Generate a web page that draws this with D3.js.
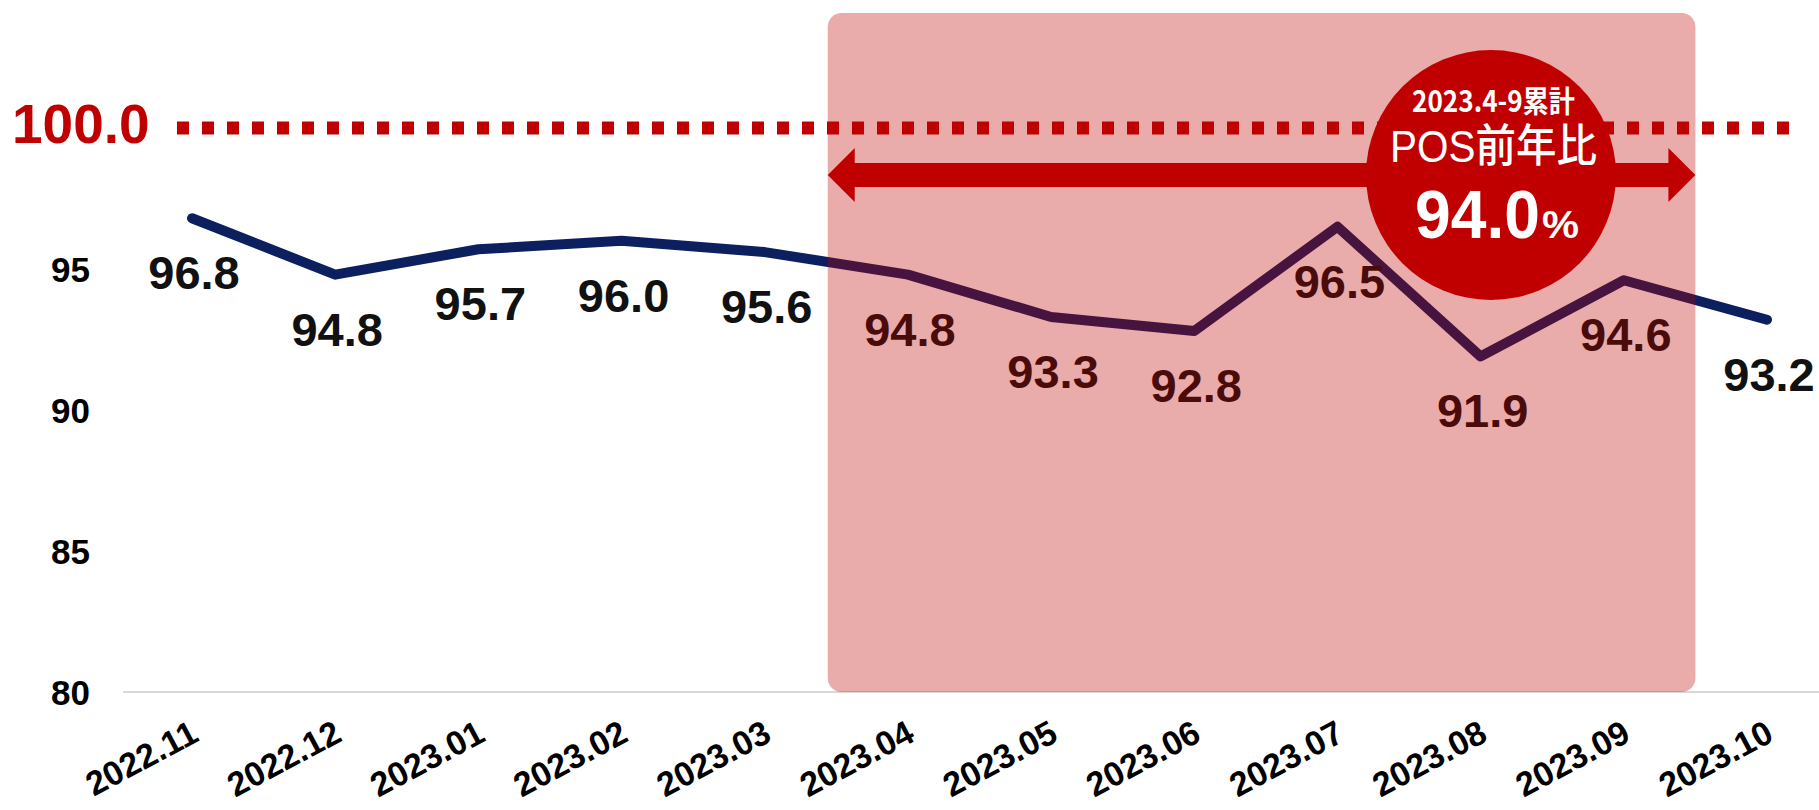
<!DOCTYPE html>
<html>
<head>
<meta charset="utf-8">
<script src="https://cdn.jsdelivr.net/npm/d3@7"></script>
<style>
  html, body { margin: 0; padding: 0; background: #ffffff; }
  svg { display: block; }
</style>
</head>
<body>
<svg id="chart" width="1819" height="810"></svg>
<script>
// ---- data ----
const months = ["2022.11","2022.12","2023.01","2023.02","2023.03","2023.04","2023.05","2023.06","2023.07","2023.08","2023.09","2023.10"];
const values = [96.8, 94.8, 95.7, 96.0, 95.6, 94.8, 93.3, 92.8, 96.5, 91.9, 94.6, 93.2];
const yTicks = [80, 85, 90, 95];
const refValue = 100;
const refLabel = "100.0";
const highlightStart = "2023.04";
const highlightEnd = "2023.09";
const badgeLines = ["2023.4-9累計", "POS前年比"];
const badgeValue = "94.0";
const badgeUnit = "%";

// ---- setup ----
const W = 1819, H = 810;
const svg = d3.select("#chart");
const RED = "#c00000";
const NAVY = "#0c1f5e";

const x = d3.scalePoint().domain(months).range([192, 1767]);
const step = x.step();
const y = d3.scaleLinear().domain([80, 100]).range([692, 128]);

// baseline axis line
svg.append("line")
  .attr("x1", x(months[0]) - step * 0.48).attr("x2", W)
  .attr("y1", y(80)).attr("y2", y(80))
  .attr("stroke", "#d9d9d9").attr("stroke-width", 2);

// y axis labels
const yAxis = d3.axisLeft(y).tickValues(yTicks).tickSize(0).tickPadding(0).tickFormat(d3.format("d"));
const yg = svg.append("g").attr("transform", "translate(90,0)").call(yAxis);
yg.select(".domain").remove();
yg.selectAll("text")
  .attr("font-family", "'Liberation Sans', Arial, sans-serif")
  .attr("font-size", 35).attr("font-weight", "bold").attr("fill", "#000")
  .attr("dy", "0.35em");

// reference dotted line at 100
svg.append("line")
  .attr("x1", 177).attr("x2", 1797)
  .attr("y1", y(refValue)).attr("y2", y(refValue))
  .attr("stroke", RED).attr("stroke-width", 13)
  .attr("stroke-dasharray", "12 13");
svg.append("text")
  .attr("x", 12).attr("y", y(refValue) + 15)
  .attr("font-family", "'Liberation Sans', Arial, sans-serif")
  .attr("font-size", 55).attr("font-weight", "bold").attr("fill", RED)
  .text(refLabel);

// data line
const line = d3.line().x((d, i) => x(months[i])).y(d => y(d));
svg.append("path")
  .datum(values)
  .attr("d", line)
  .attr("fill", "none").attr("stroke", NAVY)
  .attr("stroke-width", 10).attr("stroke-linejoin", "round").attr("stroke-linecap", "round");

// data labels
svg.append("g").selectAll("text")
  .data(values).join("text")
  .attr("x", (d, i) => x(months[i]) + 2)
  .attr("y", d => y(d) + 71)
  .attr("text-anchor", "middle")
  .attr("font-family", "'Liberation Sans', Arial, sans-serif")
  .attr("font-size", 47).attr("font-weight", "bold").attr("fill", "#111")
  .text(d => d.toFixed(1));

// x axis labels
const xAxis = d3.axisBottom(x).tickSize(0).tickPadding(0);
const xg = svg.append("g").attr("transform", `translate(0,${y(80)})`).call(xAxis);
xg.select(".domain").remove();
xg.selectAll("text")
  .attr("font-family", "'Liberation Sans', Arial, sans-serif")
  .attr("font-size", 34).attr("font-weight", "bold").attr("fill", "#000")
  .attr("text-anchor", "end")
  .attr("dy", 0).attr("y", 0)
  .attr("transform", "translate(8,48) rotate(-28)");

// highlight rectangle (semi-transparent, on top of line)
const rx0 = x(highlightStart) - step * 0.56;
const rx1 = x(highlightEnd) + step * 0.5;
svg.append("rect")
  .attr("x", rx0).attr("y", 13)
  .attr("width", rx1 - rx0).attr("height", y(80) - 13)
  .attr("rx", 14).attr("ry", 14)
  .attr("fill", RED).attr("fill-opacity", 0.33);

// double-headed arrow
const ay = 175, half = 12, headLen = 27, headHalf = 27;
const arrowPts = [
  [rx0, ay], [rx0 + headLen, ay - headHalf], [rx0 + headLen, ay - half],
  [rx1 - headLen, ay - half], [rx1 - headLen, ay - headHalf], [rx1, ay],
  [rx1 - headLen, ay + headHalf], [rx1 - headLen, ay + half],
  [rx0 + headLen, ay + half], [rx0 + headLen, ay + headHalf]
];
svg.append("path")
  .attr("d", d3.line()(arrowPts) + "Z")
  .attr("fill", RED);

// badge circle
const cx = 1491, cy = 175, r = 125;
svg.append("circle").attr("cx", cx).attr("cy", cy).attr("r", r).attr("fill", RED);

const narrow = "'Liberation Sans Narrow', 'Noto Sans CJK JP', 'Liberation Sans', sans-serif";
svg.append("text")
  .attr("x", cx - 79).attr("y", 112)
  .attr("font-family", narrow).attr("font-size", 30).attr("font-weight", "bold")
  .attr("fill", "#fff")
  .attr("textLength", 163).attr("lengthAdjust", "spacingAndGlyphs")
  .text(badgeLines[0]);
svg.append("text")
  .attr("x", cx - 101).attr("y", 162)
  .attr("font-family", "'Liberation Sans', 'Noto Sans CJK JP', sans-serif")
  .attr("font-size", 45).attr("font-weight", 500)
  .attr("fill", "#fff")
  .attr("textLength", 207).attr("lengthAdjust", "spacingAndGlyphs")
  .text(badgeLines[1]);
svg.append("text")
  .attr("x", cx - 76).attr("y", 238)
  .attr("font-family", "'Liberation Sans', sans-serif")
  .attr("font-size", 68).attr("font-weight", "bold")
  .attr("fill", "#fff")
  .attr("textLength", 125).attr("lengthAdjust", "spacingAndGlyphs")
  .text(badgeValue);
svg.append("text")
  .attr("x", cx + 51).attr("y", 238)
  .attr("font-family", "'Liberation Sans', sans-serif")
  .attr("font-size", 38).attr("font-weight", "bold")
  .attr("fill", "#fff")
  .attr("textLength", 37).attr("lengthAdjust", "spacingAndGlyphs")
  .text(badgeUnit);
</script>
</body>
</html>
